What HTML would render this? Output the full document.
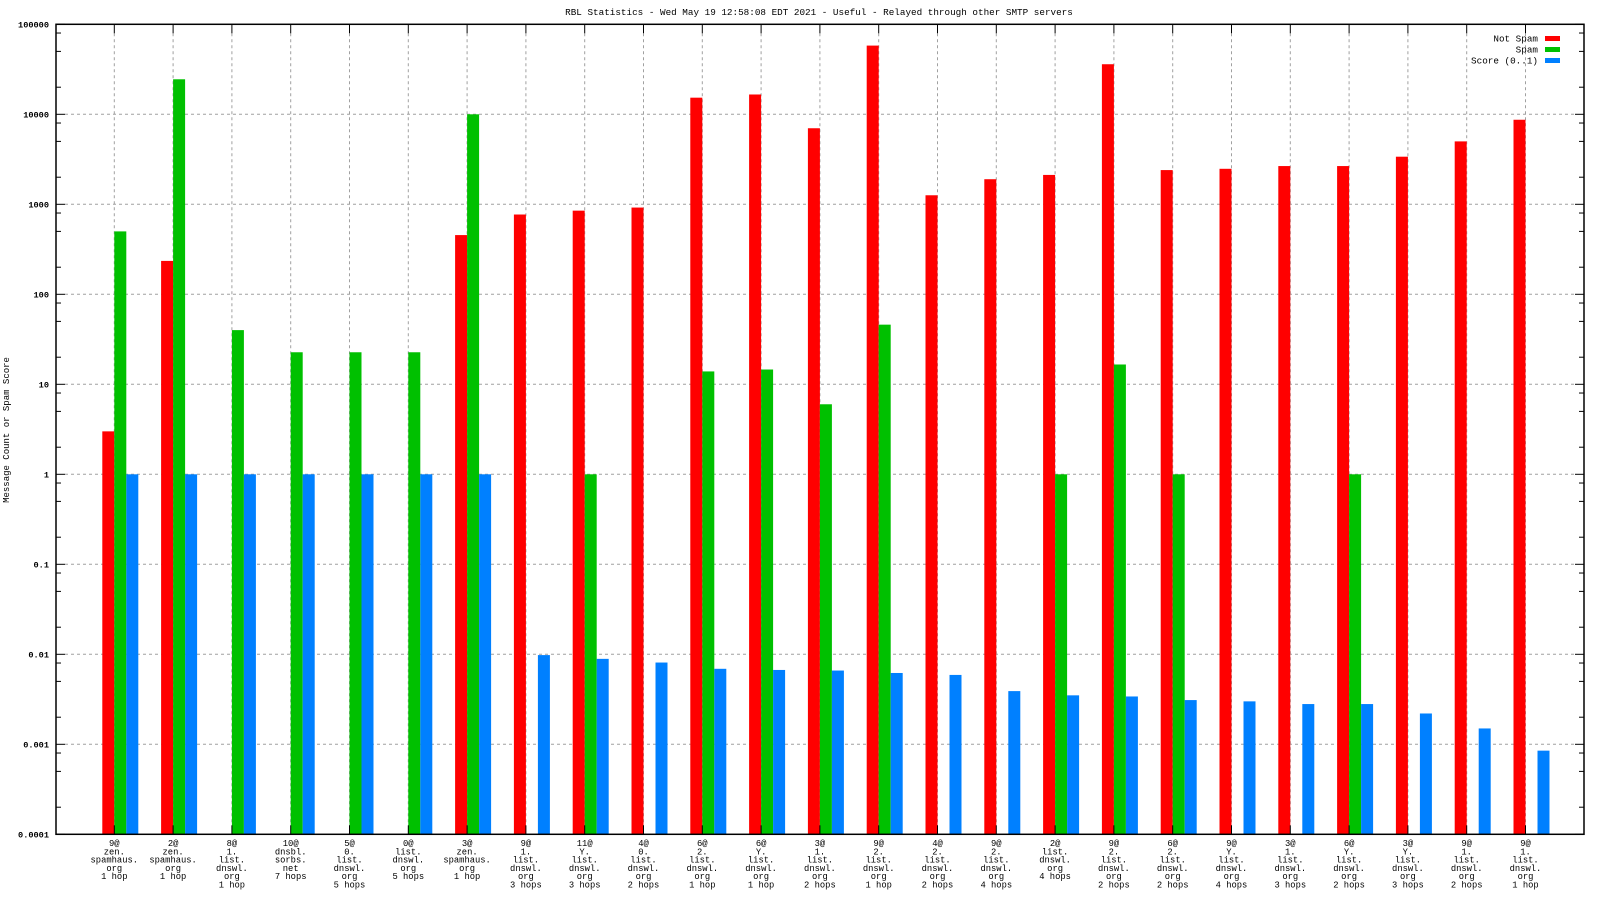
<!DOCTYPE html>
<html><head><meta charset="utf-8">
<style>
html,body{margin:0;padding:0;background:#fff;}
svg{display:block;font-family:"Liberation Mono","DejaVu Sans Mono",monospace;}
</style></head>
<body>
<svg id="chart" width="1600" height="900" viewBox="0 0 1600 900" xmlns="http://www.w3.org/2000/svg">
<rect width="1600" height="900" fill="#fff"/>
<text x="819" y="15" font-size="9.3" text-anchor="middle">RBL Statistics - Wed May 19 12:58:08 EDT 2021 - Useful - Relayed through other SMTP servers</text>
<text transform="translate(9,430) rotate(-90)" font-size="9" text-anchor="middle">Message Count or Spam Score</text>
<g id="grid"></g>
<g id="bars"></g>
<g id="axes"></g>
<g id="legend"></g>
</svg>
<script>
const categories = [
 ["9@","zen.","spamhaus.","org","1 hop"],
 ["2@","zen.","spamhaus.","org","1 hop"],
 ["8@","1.","list.","dnswl.","org","1 hop"],
 ["10@","dnsbl.","sorbs.","net","7 hops"],
 ["5@","0.","list.","dnswl.","org","5 hops"],
 ["0@","list.","dnswl.","org","5 hops"],
 ["3@","zen.","spamhaus.","org","1 hop"],
 ["9@","1.","list.","dnswl.","org","3 hops"],
 ["11@","Y.","list.","dnswl.","org","3 hops"],
 ["4@","0.","list.","dnswl.","org","2 hops"],
 ["6@","2.","list.","dnswl.","org","1 hop"],
 ["6@","Y.","list.","dnswl.","org","1 hop"],
 ["3@","1.","list.","dnswl.","org","2 hops"],
 ["9@","2.","list.","dnswl.","org","1 hop"],
 ["4@","2.","list.","dnswl.","org","2 hops"],
 ["9@","2.","list.","dnswl.","org","4 hops"],
 ["2@","list.","dnswl.","org","4 hops"],
 ["9@","2.","list.","dnswl.","org","2 hops"],
 ["6@","2.","list.","dnswl.","org","2 hops"],
 ["9@","Y.","list.","dnswl.","org","4 hops"],
 ["3@","1.","list.","dnswl.","org","3 hops"],
 ["6@","Y.","list.","dnswl.","org","2 hops"],
 ["3@","Y.","list.","dnswl.","org","3 hops"],
 ["9@","1.","list.","dnswl.","org","2 hops"],
 ["9@","1.","list.","dnswl.","org","1 hop"]
];
const notSpam = [3,235,null,null,null,null,455,770,850,920,15300,16600,7000,58000,1260,1900,2120,36000,2400,2480,2660,2660,3380,5000,8700];
const spam = [500,24500,40,22.7,22.7,22.7,10000,null,1,null,13.9,14.6,6,46,null,null,1,16.6,1,null,null,1,null,null,null];
const score = [1,1,1,1,1,1,1,0.0098,0.0089,0.0081,0.0069,0.0067,0.0066,0.0062,0.0059,0.0039,0.0035,0.0034,0.0031,0.0030,0.0028,0.0028,0.0022,0.0015,0.00085];
const yTickLabels = ["0.0001","0.001","0.01","0.1","1","10","100","1000","10000","100000"];
const legendLabels = ["Not Spam","Spam","Score (0..1)"];

const NS="http://www.w3.org/2000/svg";
const L=56,R=1584,T=24.3,B=834.3;
const yMin=-4,yMax=5;
function yScale(v){return B-(Math.log10(v)-yMin)/(yMax-yMin)*(B-T);}
const step=58.8, x0=114.3;
function xScale(i){return x0+i*step;}
function mk(tag,attrs,parent){const e=document.createElementNS(NS,tag);for(const k in attrs)e.setAttribute(k,attrs[k]);parent.appendChild(e);return e;}
const grid=document.getElementById('grid'),bars=document.getElementById('bars'),axes=document.getElementById('axes'),legend=document.getElementById('legend');

yTickLabels.forEach(function(lbl){
  const v=parseFloat(lbl),y=yScale(v);
  if(y>T+1&&y<B-1){
    const g=mk('line',{x1:L+9,x2:R-9,y1:y,y2:y,stroke:'#a0a0a0','stroke-dasharray':'3,3','stroke-width':1},grid);
    
    
  }
  mk('line',{x1:L,x2:L+9,y1:y,y2:y,stroke:'#000'},axes);
  mk('line',{x1:R,x2:R-9,y1:y,y2:y,stroke:'#000'},axes);
  const t=mk('text',{x:L-7,y:y+3,'font-size':8.6,'font-weight':'bold','text-anchor':'end'},axes);
  t.textContent=lbl;
  
  
  if(v<100000){[2,5,8].forEach(function(m){const ym=yScale(v*m);
    mk('line',{x1:L,x2:L+5,y1:ym,y2:ym,stroke:'#000'},axes);
    mk('line',{x1:R,x2:R-5,y1:ym,y2:ym,stroke:'#000'},axes);});}
});

categories.forEach(function(lines,i){
  const x=xScale(i);
  const g=mk('line',{x1:x,x2:x,y1:T+9,y2:B-9,stroke:'#a0a0a0','stroke-dasharray':'3,3'},grid);
  
  
  mk('line',{x1:x,x2:x,y1:T,y2:T+9,stroke:'#000'},axes);
  mk('line',{x1:x,x2:x,y1:B,y2:B-9,stroke:'#000'},axes);
  const t=mk('text',{x:x,y:846,'font-size':8.8,'text-anchor':'middle'},axes);
  
  
  lines.forEach(function(s,k){const ts=mk('tspan',{x:x,y:846+k*8.3},t);ts.textContent=s;});
});

const series=[{d:notSpam,c:'#ff0000',o:-12,n:'bar-not-spam'},{d:spam,c:'#00c000',o:0,n:'bar-spam'},{d:score,c:'#0080ff',o:12,n:'bar-score'}];
series.forEach(function(s){
  s.d.forEach(function(v,i){
    if(v==null)return;
    const y=yScale(v);
    const r=mk('rect',{x:xScale(i)+s.o,y:y,width:12,height:B-y,fill:s.c},bars);
    
    
  });
});

mk('rect',{x:L,y:T,width:R-L,height:B-T,fill:'none',stroke:'#000','stroke-width':1.5},axes);

legendLabels.forEach(function(lbl,k){
  const y=38+k*11;
  const t=mk('text',{x:1538,y:y+3.5,'font-size':9.3,'text-anchor':'end'},legend);
  t.textContent=lbl;
  
  
  const r=mk('rect',{x:1545,y:y-2,width:15,height:5,fill:series[k].c},legend);
  
  
});
</script>
</body></html>
